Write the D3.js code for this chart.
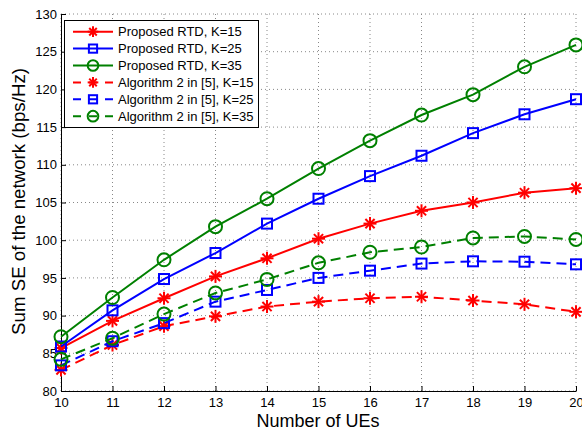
<!DOCTYPE html>
<html><head><meta charset="utf-8">
<script src="https://cdn.jsdelivr.net/npm/d3@7"></script>
<style>body{margin:0;background:#fff}svg{display:block;font-family:"Liberation Sans",Arial,sans-serif}</style>
</head><body>
<svg id="c" width="582" height="431"></svg>
<script>
const ues = [10,11,12,13,14,15,16,17,18,19,20];
const propK15 = [85.7,89.3,92.3,95.2,97.6,100.2,102.2,103.9,105.0,106.3,106.9];
const propK25 = [85.9,90.7,94.85,98.3,102.2,105.5,108.5,111.2,114.2,116.7,118.7];
const propK35 = [87.2,92.4,97.4,101.8,105.5,109.5,113.2,116.6,119.3,123.0,125.9];
const algK15 = [82.8,86.1,88.6,89.9,91.2,91.85,92.3,92.5,92.0,91.5,90.5];
const algK25 = [83.4,86.6,89.0,91.85,93.4,95.0,95.96,96.9,97.2,97.15,96.8];
const algK35 = [84.2,87.0,90.2,93.0,94.8,97.0,98.4,99.1,100.3,100.5,100.1];
const yTicks = [80,85,90,95,100,105,110,115,120,125,130];
const seriesNames = ["Proposed RTD, K=15","Proposed RTD, K=25","Proposed RTD, K=35","Algorithm 2 in [5], K=15","Algorithm 2 in [5], K=25","Algorithm 2 in [5], K=35"];

const series = [
  {name:seriesNames[0], v:propK15, color:"#ff0000", marker:"star", dash:null},
  {name:seriesNames[1], v:propK25, color:"#0000ff", marker:"square", dash:null},
  {name:seriesNames[2], v:propK35, color:"#008000", marker:"circle", dash:null},
  {name:seriesNames[3], v:algK15, color:"#ff0000", marker:"star", dash:"10,6"},
  {name:seriesNames[4], v:algK25, color:"#0000ff", marker:"square", dash:"10,6"},
  {name:seriesNames[5], v:algK35, color:"#008000", marker:"circle", dash:"10,6"}
];

const svg = d3.select("#c");
const L=61, R=576, T=14, B=391;
const x = d3.scaleLinear().domain([10,20]).range([L,R]);
const y = d3.scaleLinear().domain([80,130]).range([B,T]);

// grid
const g = svg.append("g");
g.selectAll(".gx").data(ues).enter().append("line")
  .attr("x1",d=>x(d)).attr("x2",d=>x(d)).attr("y1",T).attr("y2",B)
  .attr("stroke","#888").attr("stroke-width",1).attr("stroke-dasharray","1,3");
g.selectAll(".gy").data(yTicks).enter().append("line")
  .attr("x1",L).attr("x2",R).attr("y1",d=>y(d)).attr("y2",d=>y(d))
  .attr("stroke","#888").attr("stroke-width",1).attr("stroke-dasharray","1,3");

// axes
const xAxis = d3.axisBottom(x).tickValues(ues).tickSizeInner(-5).tickSizeOuter(0).tickPadding(7).tickFormat(d3.format("d"));
const yAxis = d3.axisLeft(y).tickValues(yTicks).tickSizeInner(-5).tickSizeOuter(0).tickPadding(4);
const ax = svg.append("g").attr("transform",`translate(0,${B})`).call(xAxis);
const ay = svg.append("g").attr("transform",`translate(${L},0)`).call(yAxis);
[ax,ay].forEach(a=>{
  a.selectAll("text").attr("font-size",13).attr("fill","#000").attr("font-family","Liberation Sans, Arial, sans-serif");
  a.select(".domain").attr("stroke","#000").attr("stroke-width",1);
  a.selectAll(".tick line").attr("stroke","#000");
});

// lines
const line = d3.line().x((d,i)=>x(ues[i])).y(d=>y(d));
function drawMarker(sel, type, color, k){
  k = k||1;
  if(type==="star"){
    const r=6.5*k;
    [[0,1],[1,0],[0.7071,0.7071],[0.7071,-0.7071]].forEach(([dx,dy])=>{
      sel.append("line").attr("x1",-r*dx).attr("y1",-r*dy).attr("x2",r*dx).attr("y2",r*dy)
        .attr("stroke",color).attr("stroke-width",2);
    });
  } else if(type==="square"){
    const h=5*k;
    sel.append("rect").attr("x",-h).attr("y",-h).attr("width",2*h).attr("height",2*h)
      .attr("fill","none").attr("stroke",color).attr("stroke-width",2);
  } else {
    sel.append("circle").attr("r",6.5*k).attr("fill","none").attr("stroke",color).attr("stroke-width",2);
  }
}
series.forEach(s=>{
  svg.append("path").datum(s.v).attr("d",line).attr("fill","none")
    .attr("stroke",s.color).attr("stroke-width",2)
    .attr("stroke-dasharray",s.dash);
  s.v.forEach((v,i)=>{
    const m = svg.append("g").attr("transform",`translate(${x(ues[i])},${y(v)})`);
    drawMarker(m,s.marker,s.color);
  });
});

// legend
const lg = svg.append("g");
lg.append("rect").attr("x",64.5).attr("y",20.5).attr("width",194).attr("height",107)
  .attr("fill","#fff").attr("stroke","#000").attr("stroke-width",1);
series.forEach((s,i)=>{
  const yy = 31.7 + i*16.9;
  lg.append("line").attr("x1",73).attr("x2",113).attr("y1",yy).attr("y2",yy)
    .attr("stroke",s.color).attr("stroke-width",2).attr("stroke-dasharray",s.dash?"8,8":null);
  const m = lg.append("g").attr("transform",`translate(93,${yy})`);
  drawMarker(m,s.marker,s.color,0.82);
  lg.append("text").attr("x",118).attr("y",yy+4.7).attr("font-size",13).text(s.name);
});

// axis labels
svg.append("text").attr("x",318).attr("y",427).attr("text-anchor","middle").attr("font-size",18).text("Number of UEs");
svg.append("text").attr("transform","translate(25,201.5) rotate(-90)").attr("text-anchor","middle").attr("font-size",18.7).text("Sum SE of the network (bps/Hz)");
</script>
</body></html>
